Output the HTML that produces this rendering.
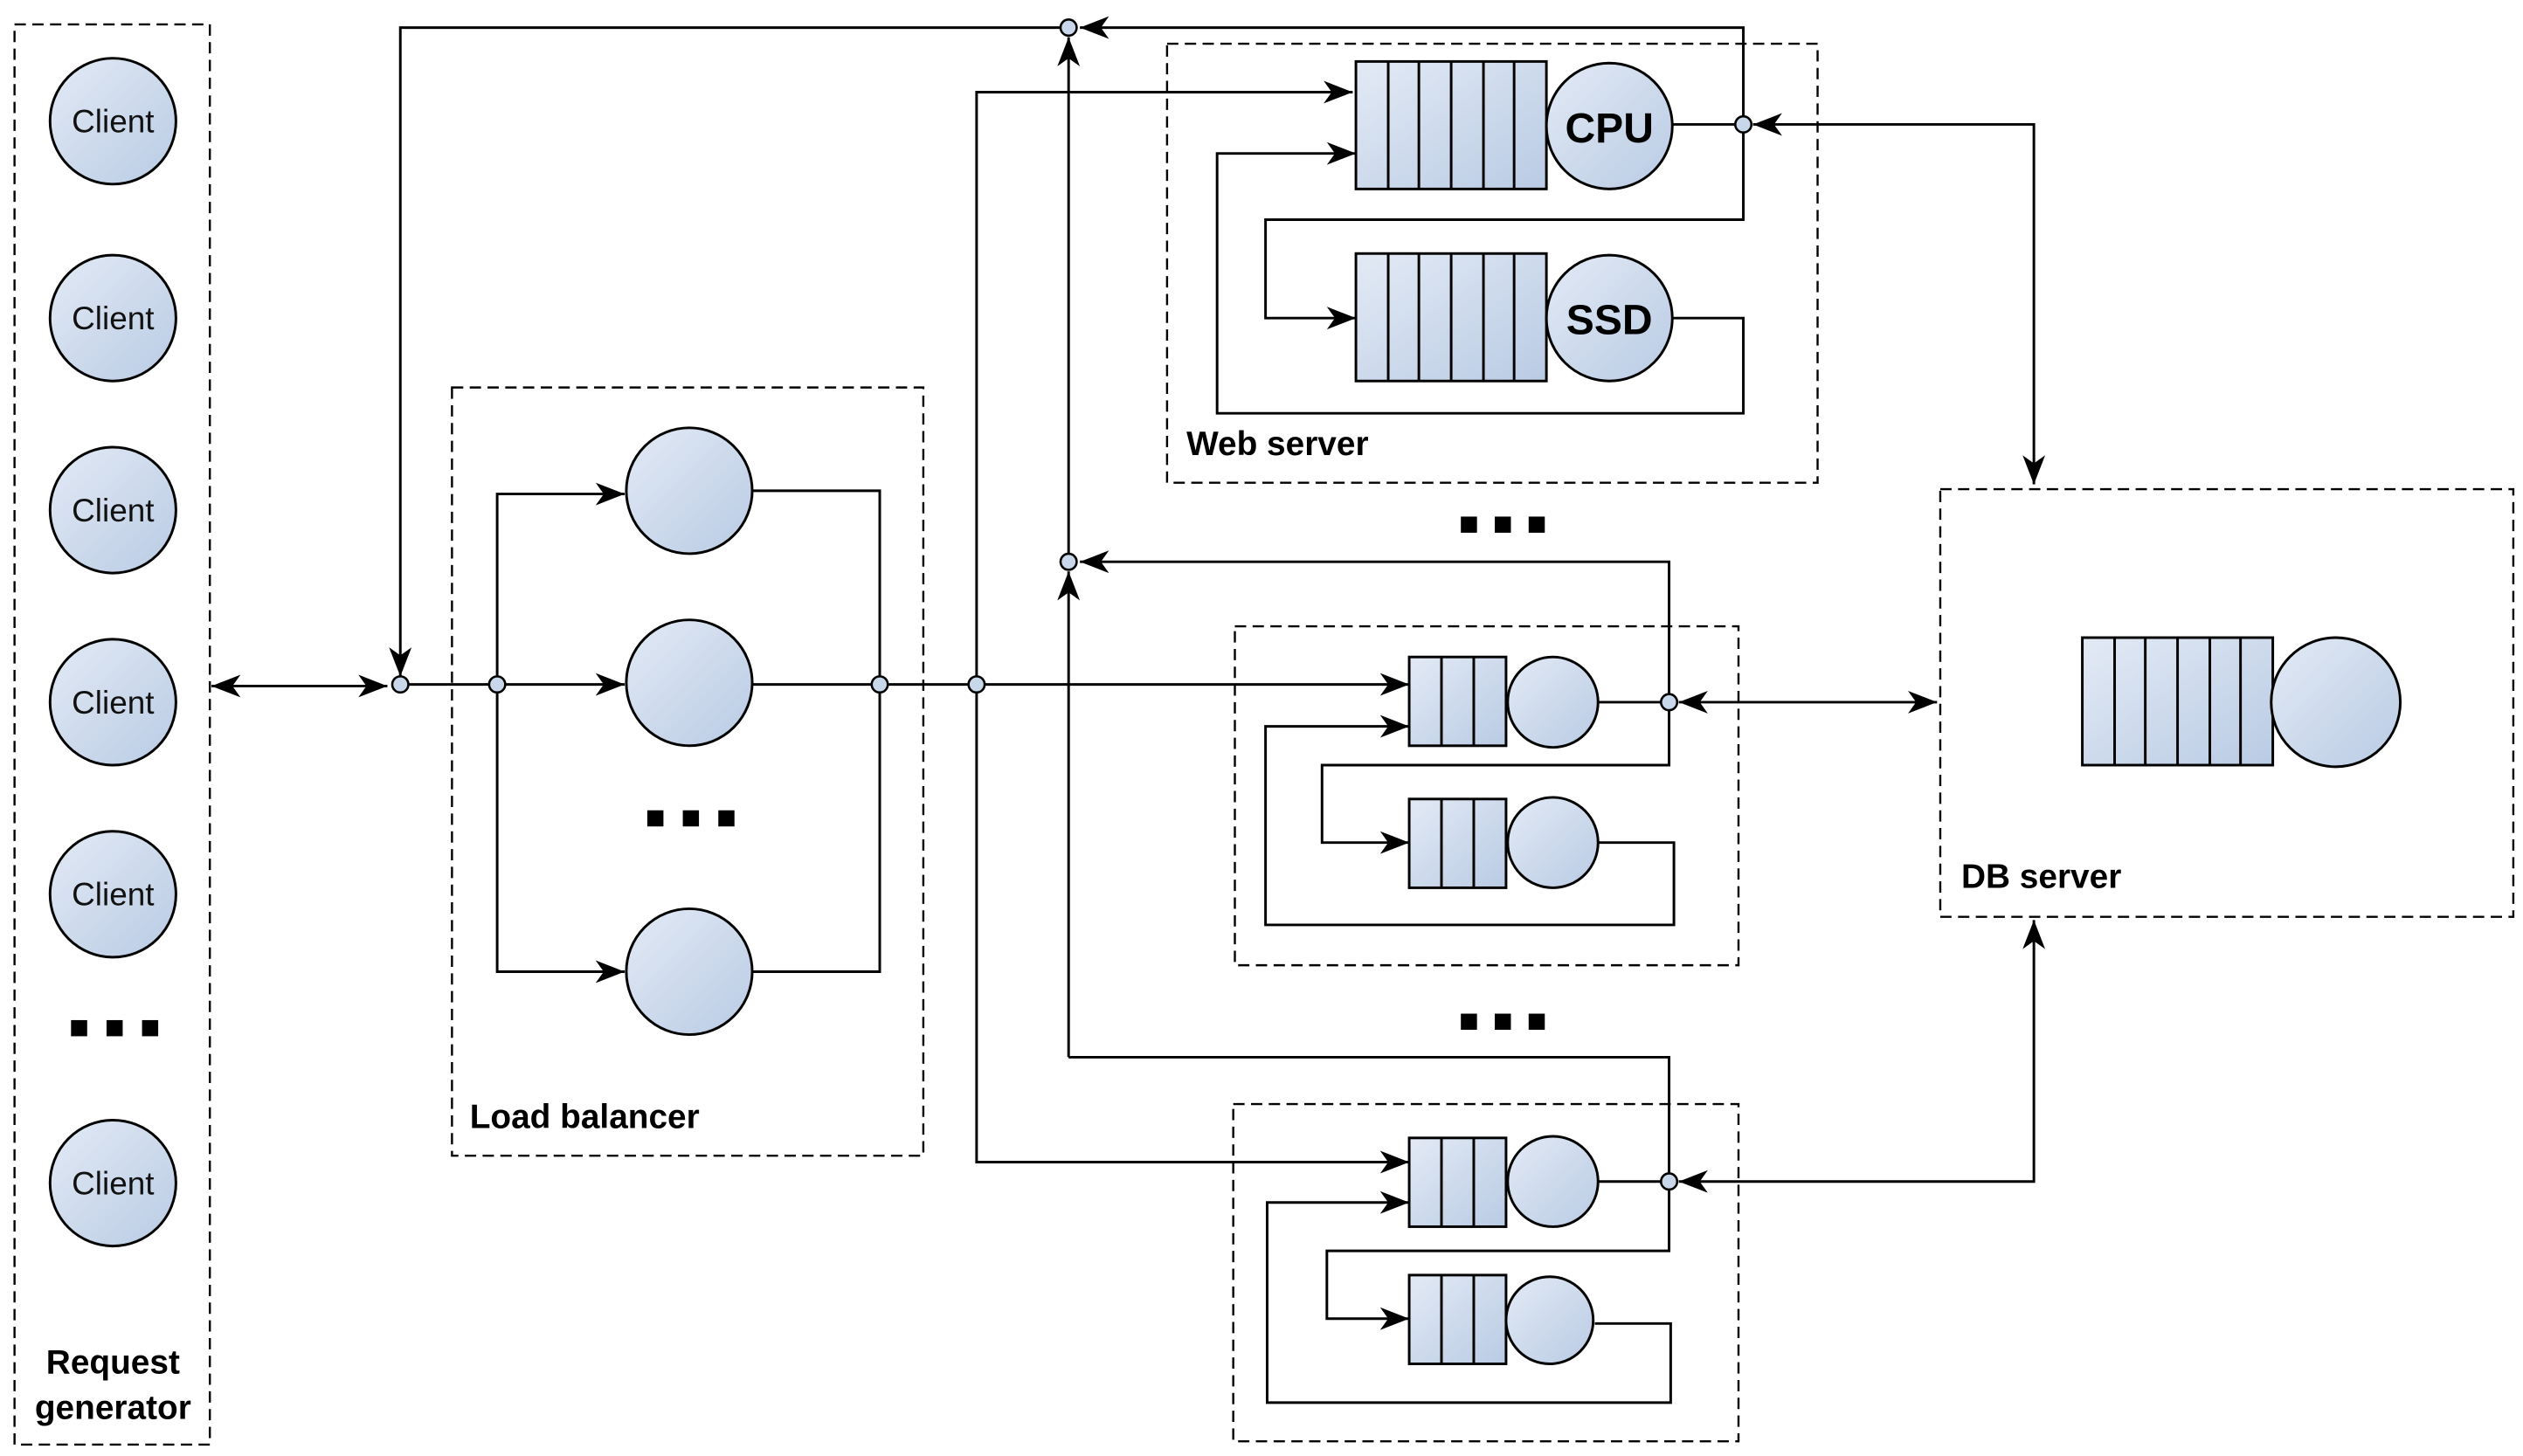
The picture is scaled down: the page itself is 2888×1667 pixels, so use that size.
<!DOCTYPE html>
<html><head><meta charset="utf-8"><style>
html,body{margin:0;padding:0;background:#fff;}
svg{display:block;}
text{font-family:"Liberation Sans",sans-serif;}
</style></head><body>
<svg width="2888" height="1667" viewBox="0 0 1563 902" xmlns="http://www.w3.org/2000/svg">
<defs>
<linearGradient id="g" x1="0" y1="0" x2="1" y2="1"><stop offset="0" stop-color="#e3eaf5"/><stop offset="1" stop-color="#b9cbe4"/></linearGradient>
<marker id="a" viewBox="0 0 18 14" refX="18" refY="7" markerWidth="18" markerHeight="14" markerUnits="userSpaceOnUse" orient="auto-start-reverse"><path d="M0,0 L18,7 L0,14 L5,7 z" fill="#000"/></marker>
</defs>
<g fill="none" stroke="#000" stroke-width="1.3" stroke-dasharray="7,4">
<rect x="9" y="15" width="121" height="880"/>
<rect x="280" y="240" width="292" height="476"/>
<rect x="723" y="27" width="403" height="272"/>
<rect x="765" y="388" width="312" height="210"/>
<rect x="764" y="684" width="313" height="209"/>
<rect x="1202" y="303" width="355" height="265"/>
</g>
<g fill="none" stroke="#000" stroke-width="1.6">
<path d="M131,425 H240" marker-start="url(#a)" marker-end="url(#a)"/>
<path d="M253,424 H303"/>
<path d="M308,424 H387" marker-end="url(#a)"/>
<path d="M308,424 V306 H387" marker-end="url(#a)"/>
<path d="M308,424 V602 H387" marker-end="url(#a)"/>
<path d="M466,304 H545 V602 H466"/>
<path d="M466,424 H873" marker-end="url(#a)"/>
<path d="M605,424 V57 H838" marker-end="url(#a)"/>
<path d="M605,424 V720 H873" marker-end="url(#a)"/>
<path d="M1080,72 V17 H669" marker-end="url(#a)"/>
<path d="M662,348 V23" marker-end="url(#a)"/>
<path d="M657,17 H248 V419" marker-end="url(#a)"/>
<path d="M1034,430 V348 H669" marker-end="url(#a)"/>
<path d="M662,655 V354" marker-end="url(#a)"/>
<path d="M662,655 H1034 V727"/>
<path d="M1036,77 H1075"/>
<path d="M1080,82 V136 H784 V197 H840" marker-end="url(#a)"/>
<path d="M1036,197 H1080 V256 H754 V95 H840" marker-end="url(#a)"/>
<path d="M1086,77 H1260 V300" marker-start="url(#a)" marker-end="url(#a)"/>
<path d="M990,435 H1029"/>
<path d="M1034,440 V474 H819 V522 H873" marker-end="url(#a)"/>
<path d="M990,522 H1037 V573 H784 V450 H873" marker-end="url(#a)"/>
<path d="M1040,435 H1200" marker-start="url(#a)" marker-end="url(#a)"/>
<path d="M990,732 H1029"/>
<path d="M1034,737 V775 H822 V817 H873" marker-end="url(#a)"/>
<path d="M988,820 H1035 V869 H785 V745 H873" marker-end="url(#a)"/>
<path d="M1040,732 H1260 V570" marker-start="url(#a)" marker-end="url(#a)"/>
</g>
<g stroke="#000" stroke-width="1.6" fill="url(#g)">
<circle cx="70" cy="75" r="39"/><circle cx="70" cy="197" r="39"/><circle cx="70" cy="316" r="39"/>
<circle cx="70" cy="435" r="39"/><circle cx="70" cy="554" r="39"/><circle cx="70" cy="733" r="39"/>
<circle cx="427" cy="304" r="39"/><circle cx="427" cy="423" r="39"/><circle cx="427" cy="602" r="39"/>
<rect x="840" y="38" width="118" height="79"/><circle cx="997" cy="78" r="39"/>
<rect x="840" y="157" width="118" height="79"/><circle cx="997" cy="197" r="39"/>
<rect x="873" y="407" width="60" height="55"/><circle cx="962" cy="435" r="28"/>
<rect x="873" y="495" width="60" height="55"/><circle cx="962" cy="522" r="28"/>
<rect x="873" y="705" width="60" height="55"/><circle cx="962" cy="732" r="28"/>
<rect x="873" y="790" width="60" height="55"/><circle cx="960" cy="818" r="27"/>
<rect x="1290" y="395" width="118" height="79"/><circle cx="1447" cy="435" r="40"/>
</g>
<g stroke="#000" stroke-width="1.6">
<path d="M860,38V117M879,38V117M899,38V117M919,38V117M938,38V117"/>
<path d="M860,157V236M879,157V236M899,157V236M919,157V236M938,157V236"/>
<path d="M1310,395V474M1329,395V474M1349,395V474M1369,395V474M1388,395V474"/>
<path d="M893,407V462M913,407V462M893,495V550M913,495V550M893,705V760M913,705V760M893,790V845M913,790V845"/>
</g>
<g stroke="#000" stroke-width="1.4" fill="#c9d7ea">
<circle cx="248" cy="424" r="5"/><circle cx="308" cy="424" r="5"/><circle cx="545" cy="424" r="5"/><circle cx="605" cy="424" r="5"/>
<circle cx="662" cy="17" r="5"/><circle cx="662" cy="348" r="5"/><circle cx="1080" cy="77" r="5"/>
<circle cx="1034" cy="435" r="5"/><circle cx="1034" cy="732" r="5"/>
</g>
<g fill="#000">
<rect x="44" y="632" width="10" height="10"/><rect x="66" y="632" width="10" height="10"/><rect x="88" y="632" width="10" height="10"/>
<rect x="401" y="502" width="10" height="10"/><rect x="423" y="502" width="10" height="10"/><rect x="445" y="502" width="10" height="10"/>
<rect x="905" y="320" width="10" height="10"/><rect x="926" y="320" width="10" height="10"/><rect x="947" y="320" width="10" height="10"/>
<rect x="905" y="628" width="10" height="10"/><rect x="926" y="628" width="10" height="10"/><rect x="947" y="628" width="10" height="10"/>
</g>
<g font-size="20" text-anchor="middle" fill="#111">
<text x="70" y="82">Client</text><text x="70" y="204">Client</text><text x="70" y="323">Client</text>
<text x="70" y="442">Client</text><text x="70" y="561">Client</text><text x="70" y="740">Client</text>
</g>
<g font-size="26" font-weight="bold" text-anchor="middle">
<text x="997" y="88">CPU</text><text x="997" y="207">SSD</text>
</g>
<g font-size="21" font-weight="bold">
<text x="70" y="851" text-anchor="middle">Request</text>
<text x="70" y="879" text-anchor="middle">generator</text>
<text x="291" y="699">Load balancer</text>
<text x="735" y="282">Web server</text>
<text x="1215" y="550">DB server</text>
</g>
</svg>
</body></html>
